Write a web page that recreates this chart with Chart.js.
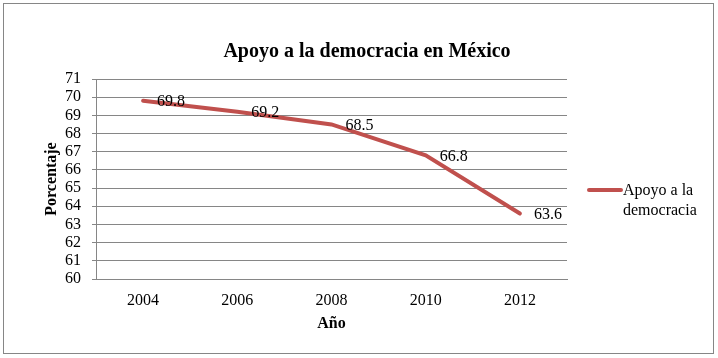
<!DOCTYPE html>
<html>
<head>
<meta charset="utf-8">
<script src="https://cdn.jsdelivr.net/npm/chart.js@4"></script>
<style>
  body { margin: 0; background: #fff; }
  #wrap { position: relative; width: 718px; height: 358px; }
  #frame { position: absolute; left: 3px; top: 3px; width: 709px; height: 349px; border: 1px solid #868686; }
  #legend { position: absolute; left: 587px; top: 180px; font: 16px "Liberation Serif", "Times New Roman", serif; color: #000; }
  #legend .sw { position: absolute; left: 0; top: 8px; width: 36px; height: 4px; background: #C0504D; border-radius: 2px; }
  #legend .tx { position: absolute; left: 36px; top: 0; line-height: 20px; white-space: nowrap; }
</style>
</head>
<body>
<div id="wrap">
  <div id="frame"></div>
  <canvas id="chart" width="718" height="358"></canvas>
  <div id="legend"><div class="sw"></div><div class="tx">Apoyo a la<br>democracia</div></div>
</div>
<script>
// data
const years = ['2004', '2006', '2008', '2010', '2012'];
const apoyo = [69.8, 69.2, 68.5, 66.8, 63.6];
const yMin = 60;
const yMax = 71;
const chartTitle = 'Apoyo a la democracia en México';

const serif = '"Liberation Serif", "Times New Roman", serif';
const gridColor = '#868686';

// value labels to the right of each point, plus the title centred on the page
const extras = {
  id: 'extras',
  afterDatasetsDraw(chart) {
    const ctx = chart.ctx;
    const meta = chart.getDatasetMeta(0);
    ctx.save();
    ctx.font = '16px ' + serif;
    ctx.fillStyle = '#000';
    ctx.textAlign = 'left';
    ctx.textBaseline = 'middle';
    meta.data.forEach((pt, i) => {
      ctx.fillText(String(apoyo[i]), pt.x + 14, pt.y + 1);
    });
    ctx.font = 'bold 20px ' + serif;
    ctx.textAlign = 'center';
    ctx.fillText(chartTitle, 367, 52);
    ctx.restore();
  }
};

new Chart(document.getElementById('chart').getContext('2d'), {
  type: 'line',
  data: {
    labels: years,
    datasets: [{
      label: 'Apoyo a la democracia',
      data: apoyo,
      borderColor: '#C0504D',
      borderWidth: 4,
      pointRadius: 0,
      tension: 0,
      borderCapStyle: 'round'
    }]
  },
  options: {
    responsive: false,
    animation: false,
    layout: { padding: { left: 0, right: 151, top: 79, bottom: 0 } },
    plugins: {
      legend: { display: false },
      tooltip: { enabled: false }
    },
    scales: {
      x: {
        offset: true,
        grid: { display: false },
        border: { display: true, color: gridColor },
        ticks: { color: '#000', font: { family: serif, size: 16 }, padding: 4 },
        title: {
          display: true, text: 'Año', color: '#000',
          font: { family: serif, size: 16, weight: 'bold' },
          padding: { top: 0, bottom: 25 }
        },
        afterFit(s) { s.height = 79; }
      },
      y: {
        min: yMin,
        max: yMax,
        ticks: { stepSize: 1, autoSkip: false, color: '#000', font: { family: serif, size: 16 }, padding: 11 },
        grid: { color: gridColor, tickLength: 4 },
        border: { display: true, color: gridColor },
        title: {
          display: true, text: 'Porcentaje', color: '#000',
          font: { family: serif, size: 16, weight: 'bold' },
          padding: { top: 42, bottom: 0 }
        },
        afterFit(s) { s.width = 96; }
      }
    }
  },
  plugins: [extras]
});
</script>
</body>
</html>
